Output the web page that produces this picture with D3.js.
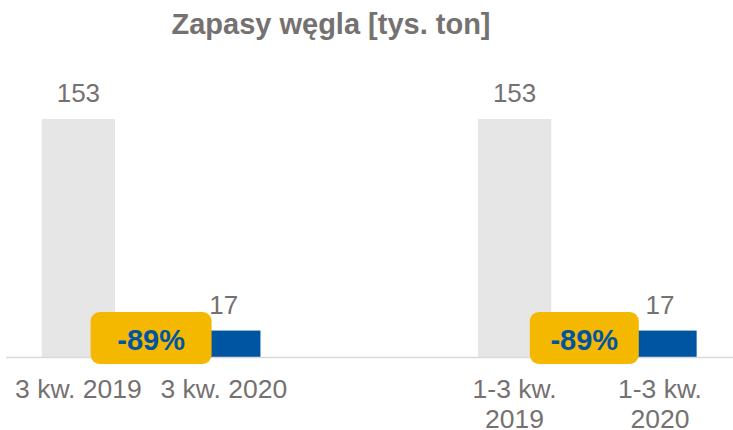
<!DOCTYPE html>
<html><head><meta charset="utf-8">
<script src="https://cdn.jsdelivr.net/npm/d3@7"></script>
<style>html,body{margin:0;padding:0;background:#fff;}svg{display:block;}</style>
</head><body><svg id="c" width="733" height="430"></svg>
<script>
// Data
const categories = ["3 kw. 2019", "3 kw. 2020", "", "1-3 kw. 2019", "1-3 kw. 2020"];
const labelLines = [["3 kw. 2019"], ["3 kw. 2020"], [], ["1-3 kw.", "2019"], ["1-3 kw.", "2020"]];
const values = [153, 17, null, 153, 17];
const changeLabels = ["-89%", "-89%"];
const changePairs = [[0, 1], [3, 4]];

// Layout / style
const W = 733, H = 430;
const baseY = 357, topY = 119;
const grayBar = "#e7e6e6", blueBar = "#0055a2", txt = "#767171", badgeFill = "#f5b800";
const badgeW = [121, 109], badgeTop = 312, badgeH = 52;
const font = "Liberation Sans, Arial, sans-serif";

const svg = d3.select("#c");
const x = d3.scaleBand().domain(d3.range(categories.length)).range([5.7, 732.7])
  .paddingInner(0.496).paddingOuter(0.248);
const y = d3.scaleLinear().domain([0, 153]).range([baseY, topY]);

svg.append("text").attr("x", 331).attr("y", 34).attr("text-anchor", "middle")
  .attr("font-family", font).attr("font-size", 29).attr("font-weight", "bold")
  .attr("fill", txt).text("Zapasy węgla [tys. ton]");

const data = values.map((v, i) => ({i, v})).filter(d => d.v != null);

svg.selectAll("rect.bar").data(data).enter().append("rect").attr("class", "bar")
  .attr("x", d => x(d.i)).attr("width", x.bandwidth())
  .attr("y", d => y(d.v)).attr("height", d => baseY - y(d.v))
  .attr("fill", (d, k) => k % 2 === 0 ? grayBar : blueBar);

svg.append("line").attr("x1", 6).attr("x2", 733).attr("y1", baseY + 0.5).attr("y2", baseY + 0.5)
  .attr("stroke", "#d9d9d9").attr("stroke-width", 1.5);

svg.selectAll("text.val").data(data).enter().append("text").attr("class", "val")
  .attr("x", d => x(d.i) + x.bandwidth() / 2).attr("y", d => y(d.v) - 17)
  .attr("text-anchor", "middle").attr("font-family", font).attr("font-size", 26)
  .attr("fill", txt).text(d => d.v);

labelLines.forEach((lines, i) => {
  lines.forEach((ln, j) => {
    svg.append("text").attr("x", x(i) + x.bandwidth() / 2).attr("y", 398 + j * 30)
      .attr("text-anchor", "middle").attr("font-family", font).attr("font-size", 26.5)
      .attr("fill", txt).text(ln);
  });
});

changePairs.forEach((p, k) => {
  const cx = (x(p[0]) + x.bandwidth() + x(p[1])) / 2 - (k === 0 ? 0 : 3);
  const w = badgeW[k];
  svg.append("rect").attr("x", cx - w / 2).attr("y", badgeTop).attr("width", w).attr("height", badgeH)
    .attr("rx", 9).attr("fill", badgeFill);
  svg.append("text").attr("x", cx).attr("y", badgeTop + 38).attr("text-anchor", "middle")
    .attr("font-family", font).attr("font-size", 29).attr("font-weight", "bold")
    .attr("fill", blueBar).text(changeLabels[k]);
});
</script></body></html>
